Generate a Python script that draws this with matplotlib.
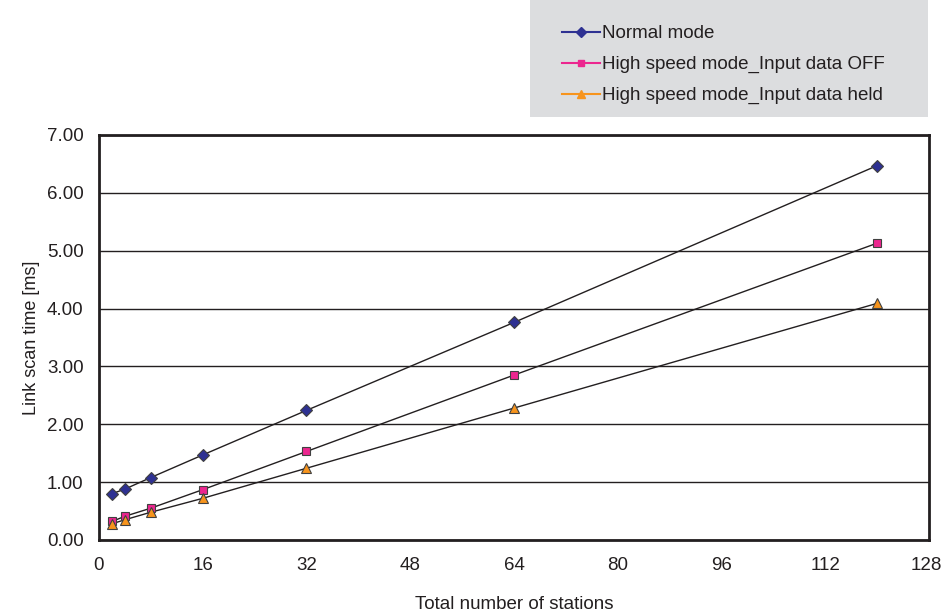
import matplotlib.pyplot as plt
import matplotlib.transforms as mtransforms
from matplotlib.lines import Line2D
from matplotlib.patches import Rectangle

plt.rcParams['font.family'] = ['Liberation Sans', 'DejaVu Sans']

# data
stations = [2, 4, 8, 16, 32, 64, 120]
normal = [0.80, 0.88, 1.08, 1.47, 2.24, 3.76, 6.47]
hs_off = [0.32, 0.41, 0.55, 0.87, 1.53, 2.85, 5.13]
hs_held = [0.28, 0.35, 0.48, 0.72, 1.24, 2.28, 4.09]
series_names = ["Normal mode", "High speed mode_Input data OFF", "High speed mode_Input data held"]
colors = ["#2e3192", "#ec268f", "#f7941d"]
markers = ["D", "s", "^"]
msizes = [6, 6, 7]

fig = plt.figure(figsize=(9.41, 6.13), dpi=100)
ax = fig.add_axes([0.1052, 0.1191, 0.882, 0.6607])

for vals, c, m, ms in zip([normal, hs_off, hs_held], colors, markers, msizes):
    ax.plot(stations, vals, color="#231f20", lw=1.0, zorder=3)
    ax.plot(stations, vals, ls="none", marker=m, ms=ms, mfc=c,
            mec="#404040", mew=0.8, zorder=4)

ax.set_xlim(0, 128)
ax.set_ylim(0, 7)
ax.set_xticks(range(0, 129, 16))
ax.set_yticks([i for i in range(8)])
ax.set_yticklabels(["%.2f" % i for i in range(8)])
ax.tick_params(length=0, labelsize=13.5, colors="#231f20")
ax.tick_params(axis="y", pad=11)
ax.tick_params(axis="x", pad=12)
ax.yaxis.grid(True, color="#231f20", lw=1.0)
ax.set_axisbelow(True)
for s in ax.spines.values():
    s.set_linewidth(2)
    s.set_color("#231f20")

# keep the "128" label inside the picture
last = ax.get_xticklabels()[-1]
last.set_transform(last.get_transform() +
                   mtransforms.ScaledTranslation(-3 / 100, 0, fig.dpi_scale_trans))

ax.set_ylabel("Link scan time [ms]", fontsize=13, color="#231f20", labelpad=5)
ax.set_xlabel("Total number of stations", fontsize=13.5, color="#231f20", labelpad=16)

# grey legend panel
fig.patches.append(Rectangle((530 / 941, 1 - 117 / 613), 398 / 941, 117 / 613,
                             transform=fig.transFigure, facecolor="#dcdddf",
                             edgecolor="none", zorder=0))

handles = [Line2D([0], [0], color=c, marker=m, ms=ms - 1, mfc=c, mec=c, lw=1.5)
           for c, m, ms in zip(colors, markers, msizes)]
leg = fig.legend(handles, series_names, loc="upper left",
                 bbox_to_anchor=(562 / 941, 1 - 25 / 613),
                 fontsize=13.5, frameon=False,
                 handlelength=2.0, handletextpad=0.15, labelspacing=0.74,
                 borderpad=0, borderaxespad=0)
for t in leg.get_texts():
    t.set_color("#231f20")

fig.savefig("out.png", dpi=100)
